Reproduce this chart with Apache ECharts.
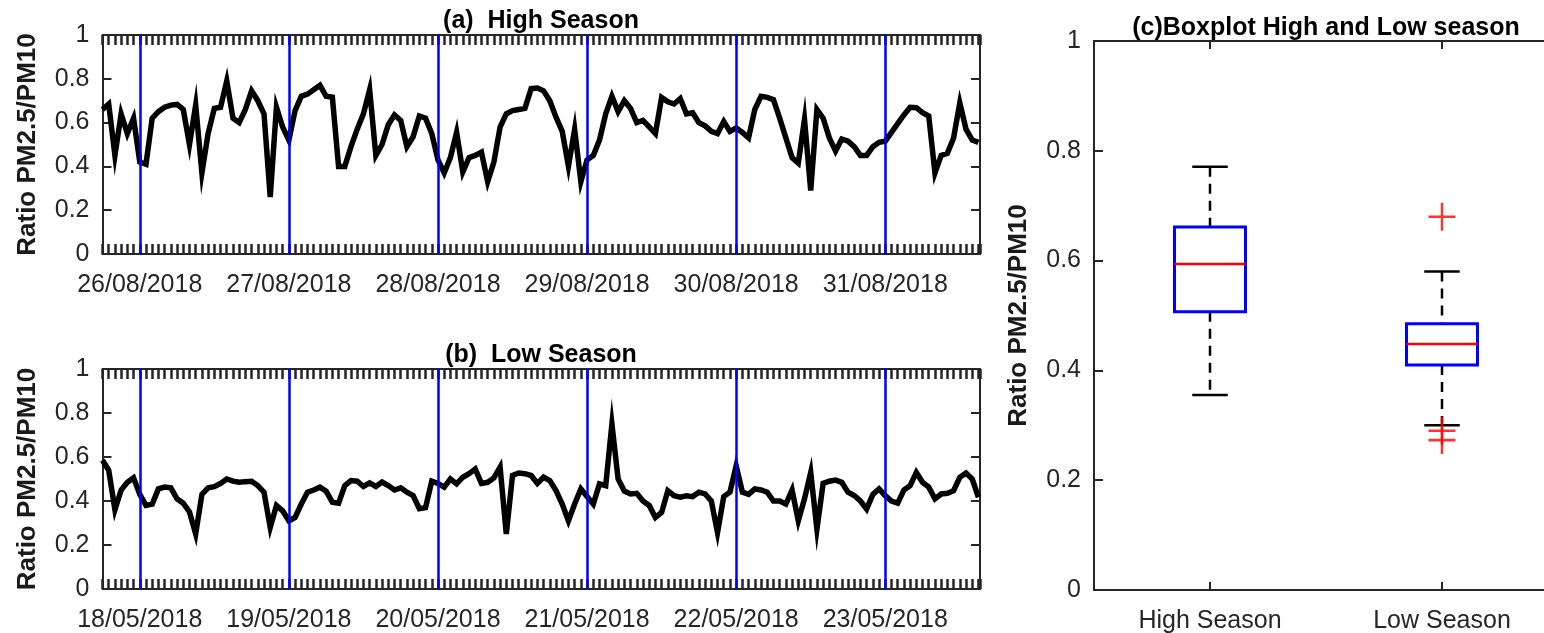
<!DOCTYPE html>
<html>
<head>
<meta charset="utf-8">
<title>Ratio PM2.5/PM10</title>
<script src="https://cdn.jsdelivr.net/npm/echarts@6.0.0/dist/echarts.min.js"></script>
<style>
    html, body { margin: 0; padding: 0; background: #fff; }
    #main { width: 1544px; height: 633px; }
</style>
</head>
<body>
<div id="main"></div>
<script>
// hourly ratio, first value is 6 hours before the first date
var startHour = -6;
var highDays = ['26/08/2018', '27/08/2018', '28/08/2018', '29/08/2018', '30/08/2018', '31/08/2018'];
var lowDays = ['18/05/2018', '19/05/2018', '20/05/2018', '21/05/2018', '22/05/2018', '23/05/2018'];

var highValues = [
    0.66, 0.685, 0.45, 0.64, 0.55, 0.62,
    0.42, 0.41, 0.62, 0.65, 0.67, 0.68, 0.683, 0.66, 0.50, 0.68, 0.37, 0.55,
    0.665, 0.67, 0.79, 0.62, 0.60, 0.66, 0.745, 0.70, 0.64, 0.26, 0.67, 0.58,
    0.52, 0.655, 0.72, 0.73, 0.75, 0.77, 0.72, 0.716, 0.40, 0.40, 0.49, 0.57,
    0.64, 0.75, 0.45, 0.50, 0.59, 0.635, 0.61, 0.49, 0.535, 0.63, 0.62, 0.55,
    0.43, 0.37, 0.44, 0.556, 0.375, 0.44, 0.45, 0.465, 0.33, 0.42, 0.58, 0.64,
    0.655, 0.66, 0.665, 0.755, 0.758, 0.745, 0.70, 0.625, 0.56, 0.40, 0.57, 0.33,
    0.43, 0.45, 0.52, 0.64, 0.72, 0.65, 0.70, 0.665, 0.60, 0.61, 0.58, 0.55,
    0.715, 0.695, 0.685, 0.71, 0.64, 0.645, 0.60, 0.585, 0.56, 0.55, 0.605, 0.56,
    0.575, 0.555, 0.53, 0.66, 0.72, 0.715, 0.705, 0.62, 0.53, 0.44, 0.415, 0.615,
    0.29, 0.66, 0.62, 0.53, 0.47, 0.525, 0.515, 0.49, 0.45, 0.45, 0.49, 0.51,
    0.515, 0.555, 0.595, 0.635, 0.67, 0.668, 0.645, 0.63, 0.37, 0.45, 0.46, 0.53,
    0.69, 0.57, 0.52, 0.51
];

var lowValues = [
    0.585, 0.54, 0.36, 0.45, 0.485, 0.505,
    0.43, 0.38, 0.386, 0.455, 0.463, 0.46, 0.41, 0.39, 0.35, 0.25, 0.43, 0.46,
    0.465, 0.48, 0.50, 0.49, 0.485, 0.488, 0.49, 0.47, 0.44, 0.28, 0.38, 0.355,
    0.31, 0.325, 0.386, 0.44, 0.45, 0.463, 0.445, 0.394, 0.39, 0.47, 0.493, 0.49,
    0.466, 0.482, 0.466, 0.486, 0.47, 0.45, 0.46, 0.44, 0.425, 0.365, 0.37, 0.49,
    0.48, 0.463, 0.50, 0.478, 0.508, 0.524, 0.545, 0.48, 0.485, 0.505, 0.554, 0.25,
    0.516, 0.527, 0.524, 0.516, 0.48, 0.508, 0.493, 0.447, 0.386, 0.31, 0.386, 0.455,
    0.42, 0.386, 0.478, 0.47, 0.75, 0.50, 0.445, 0.432, 0.435, 0.40, 0.38, 0.325,
    0.348, 0.447, 0.424, 0.417, 0.424, 0.42, 0.44, 0.432, 0.40, 0.256, 0.42, 0.44,
    0.56, 0.44, 0.43, 0.455, 0.45, 0.44, 0.40, 0.40, 0.386, 0.45, 0.31, 0.41,
    0.53, 0.272, 0.48, 0.49, 0.495, 0.485, 0.44, 0.425, 0.40, 0.363, 0.43, 0.455,
    0.424, 0.40, 0.39, 0.45, 0.47, 0.53, 0.485, 0.463, 0.41, 0.432, 0.435, 0.447,
    0.508, 0.527, 0.50, 0.417
];

// boxplot: [lower whisker, Q1, median, Q3, upper whisker]
var boxCategories = ['High Season', 'Low Season'];
var boxStats = [
    [0.355, 0.507, 0.594, 0.661, 0.771],
    [0.300, 0.410, 0.448, 0.485, 0.580]
];
var boxOutliers = [
    [1, 0.68], [1, 0.29], [1, 0.273]
];

var dayStarts = [0, 24, 48, 72, 96, 120];

var myChart = echarts.init(document.getElementById('main'));

var axisColor = '#262626';
var fontFamily = '"Liberation Sans", Arial, sans-serif';

function toPoints(values) {
    var pts = [];
    for (var i = 0; i < values.length; i++) {
        pts.push([startHour + i, values[i]]);
    }
    return pts;
}

// time axes (bottom with dates, top only ticks)
function timeAxis(grid, pos, days) {
    return {
        type: 'value',
        gridIndex: grid,
        position: pos,
        min: startHour,
        max: 135.25,
        interval: 1,
        splitLine: { show: false },
        axisLine: { show: true, onZero: false, lineStyle: { color: axisColor, width: 2 } },
        axisTick: { show: true, inside: true, length: 10, lineStyle: { color: axisColor, width: 2.5 } },
        axisLabel: {
            show: pos === 'bottom',
            customValues: dayStarts,
            margin: 19,
            color: axisColor,
            fontSize: 25,
            fontFamily: fontFamily,
            formatter: function (v) {
                var k = Math.round(v / 24);
                return (v % 24 === 0 && days[k]) ? days[k] : '';
            }
        }
    };
}

function ratioAxis(grid, pos, withName) {
    return {
        type: 'value',
        gridIndex: grid,
        position: pos,
        min: 0,
        max: 1,
        interval: 0.2,
        name: withName ? 'Ratio PM2.5/PM10' : '',
        nameLocation: 'middle',
        nameGap: 62,
        nameTextStyle: { color: '#1a1a1a', fontSize: 26, fontWeight: 'bold', fontFamily: fontFamily },
        splitLine: { show: false },
        axisLine: { show: true, onZero: false, lineStyle: { color: axisColor, width: 2 } },
        axisTick: { show: true, inside: true, length: 9, lineStyle: { color: axisColor, width: 2 } },
        axisLabel: {
            show: withName,
            margin: 13,
            color: axisColor,
            fontSize: 25,
            fontFamily: fontFamily
        }
    };
}

function catAxis(pos) {
    return {
        type: 'category',
        gridIndex: 2,
        position: pos,
        data: boxCategories,
        boundaryGap: true,
        splitLine: { show: false },
        axisLine: { show: true, onZero: false, lineStyle: { color: axisColor, width: 2 } },
        axisTick: { show: true, inside: true, alignWithLabel: true, length: 8, lineStyle: { color: axisColor, width: 2 } },
        axisLabel: {
            show: pos === 'bottom',
            margin: 19,
            color: axisColor,
            fontSize: 25,
            fontFamily: fontFamily
        }
    };
}

function dayLines() {
    return {
        silent: true,
        symbol: 'none',
        label: { show: false },
        lineStyle: { color: '#0000ff', width: 2.5, type: 'solid' },
        data: dayStarts.map(function (d) { return { xAxis: d }; })
    };
}

function renderBox(params, api) {
    var idx = api.value(0);
    var low = api.coord([idx, api.value(1)]);
    var q1 = api.coord([idx, api.value(2)]);
    var med = api.coord([idx, api.value(3)]);
    var q3 = api.coord([idx, api.value(4)]);
    var high = api.coord([idx, api.value(5)]);
    var band = api.size([1, 0])[0];
    var half = band * 0.153;
    var cap = half / 2;
    var x = low[0];
    var dash = { stroke: '#000', lineWidth: 2.5, lineDash: [10, 7] };
    var solid = { stroke: '#000', lineWidth: 2.5 };
    return {
        type: 'group',
        children: [
            { type: 'line', shape: { x1: x, y1: high[1], x2: x, y2: q3[1] }, style: dash },
            { type: 'line', shape: { x1: x, y1: q1[1], x2: x, y2: low[1] }, style: dash },
            { type: 'line', shape: { x1: x - cap, y1: high[1], x2: x + cap, y2: high[1] }, style: solid },
            { type: 'line', shape: { x1: x - cap, y1: low[1], x2: x + cap, y2: low[1] }, style: solid },
            { type: 'rect', shape: { x: x - half, y: q3[1], width: half * 2, height: q1[1] - q3[1] },
              style: { fill: 'none', stroke: '#0000ff', lineWidth: 3 } },
            { type: 'line', shape: { x1: x - half, y1: med[1], x2: x + half, y2: med[1] },
              style: { stroke: '#ff0000', lineWidth: 2.5 } }
        ]
    };
}

var titleStyle = { color: '#000', fontSize: 25, fontWeight: 'bold', fontFamily: fontFamily };

var option = {
    animation: false,
    backgroundColor: '#fff',
    title: [
        { text: '(a)  High Season', left: 541, top: 9, textAlign: 'center', padding: 0, textStyle: titleStyle },
        { text: '(b)  Low Season', left: 541, top: 343, textAlign: 'center', padding: 0, textStyle: titleStyle },
        { text: '(c)Boxplot High and Low season', left: 1326, top: 16, textAlign: 'center', padding: 0, textStyle: titleStyle }
    ],
    grid: [
        { left: 102.5, top: 35, width: 877.5, height: 219, outerBoundsMode: 'none', containLabel: false },
        { left: 102.5, top: 369, width: 877.5, height: 220, outerBoundsMode: 'none', containLabel: false },
        { left: 1094, top: 41, width: 464, height: 549, outerBoundsMode: 'none', containLabel: false }
    ],
    xAxis: [
        timeAxis(0, 'bottom', highDays),
        timeAxis(0, 'top', highDays),
        timeAxis(1, 'bottom', lowDays),
        timeAxis(1, 'top', lowDays),
        catAxis('bottom'),
        catAxis('top')
    ],
    yAxis: [
        ratioAxis(0, 'left', true),
        ratioAxis(0, 'right', false),
        ratioAxis(1, 'left', true),
        ratioAxis(1, 'right', false),
        ratioAxis(2, 'left', true),
        ratioAxis(2, 'right', false)
    ],
    series: [
        {
            name: 'High Season',
            type: 'line',
            xAxisIndex: 0,
            yAxisIndex: 0,
            data: toPoints(highValues),
            showSymbol: false,
            lineStyle: { color: '#000', width: 5.5, join: 'miter', miterLimit: 10 },
            markLine: dayLines()
        },
        {
            name: 'Low Season',
            type: 'line',
            xAxisIndex: 2,
            yAxisIndex: 2,
            data: toPoints(lowValues),
            showSymbol: false,
            lineStyle: { color: '#000', width: 5.5, join: 'miter', miterLimit: 10 },
            markLine: dayLines()
        },
        {
            name: 'Boxplot',
            type: 'custom',
            xAxisIndex: 4,
            yAxisIndex: 4,
            renderItem: renderBox,
            encode: { x: 0, y: [1, 2, 3, 4, 5] },
            data: boxStats.map(function (s, i) { return [i].concat(s); })
        },
        {
            name: 'Outliers',
            type: 'scatter',
            xAxisIndex: 4,
            yAxisIndex: 4,
            symbol: 'path://M0,5 L10,5 M5,0 L5,10',
            symbolSize: [27, 28],
            itemStyle: { color: 'none', borderColor: '#ff0000', borderWidth: 2.5 },
            data: boxOutliers
        }
    ]
};

myChart.setOption(option);
</script>
</body>
</html>
